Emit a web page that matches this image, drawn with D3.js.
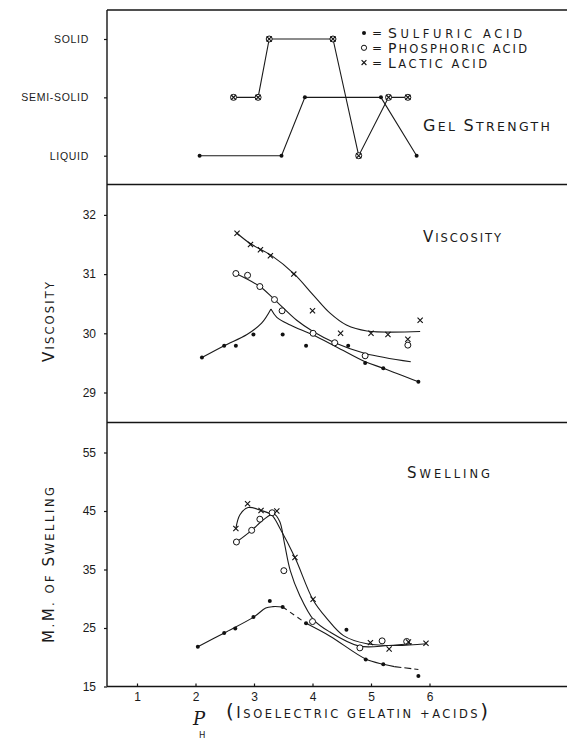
<!DOCTYPE html>
<html lang="en">
<head>
<meta charset="UTF-8">
<title>Gelatin: gel strength, viscosity and swelling against pH</title>
<script src="https://d3js.org/d3.v7.min.js"></script>
<style>
  body { margin: 0; background: #fff; }
  svg { display: block; background: #fff; font-family: "DejaVu Sans", sans-serif; }
  .frame { stroke: #151515; stroke-width: 1.4; fill: none; }
  .curve { fill: none; stroke: #1a1a1a; stroke-width: 1.1; }
  .dot { fill: #111; }
  .ring { fill: #fff; stroke: #111; stroke-width: 1; }
  .cross { stroke: #111; stroke-width: 1.1; fill: none; }
  .axis path { display: none; }
  .axis line { stroke: #151515; stroke-width: 1.2; }
  .axis text { fill: #1a1a1a; font-size: 12px; }
  text { fill: #1a1a1a; }
</style>
</head>
<body>
<svg width="567" height="738"></svg>
<script>
// ---- data ----
const gelLevels = ["Liquid", "Semi-solid", "Solid"];
const xTicks = [1, 2, 3, 4, 5, 6];
const viscTicks = [29, 30, 31, 32];
const swellTicks = [15, 25, 35, 45, 55];

// gel strength [pH, level]
const gelSulfuric = [[2.07, "Liquid"], [3.47, "Liquid"], [3.87, "Semi-solid"], [5.17, "Semi-solid"], [5.78, "Liquid"]];
const gelPhosphoric = [[2.65, "Semi-solid"], [3.07, "Semi-solid"], [3.26, "Solid"], [4.35, "Solid"], [4.79, "Liquid"], [5.30, "Semi-solid"], [5.63, "Semi-solid"]];
const gelLactic = [[2.65, "Semi-solid"], [3.07, "Semi-solid"], [3.26, "Solid"], [4.35, "Solid"], [4.79, "Liquid"], [5.30, "Semi-solid"], [5.63, "Semi-solid"]];

// viscosity observations [pH, value]
const viscSulfuric = [[2.11, 29.59], [2.49, 29.79], [2.69, 29.79], [2.99, 29.98], [3.49, 29.98], [3.89, 29.79], [4.61, 29.79], [4.90, 29.50], [5.21, 29.41], [5.81, 29.18]];
const viscPhosphoric = [[2.69, 31.01], [2.89, 30.98], [3.10, 30.79], [3.35, 30.57], [3.48, 30.38], [4.01, 30.00], [4.38, 29.84], [4.90, 29.62], [5.63, 29.80]];
const viscLactic = [[2.71, 31.69], [2.94, 31.50], [3.11, 31.41], [3.28, 31.31], [3.68, 31.00], [4.00, 30.38], [4.48, 30.00], [5.00, 30.00], [5.29, 29.98], [5.63, 29.90], [5.84, 30.22]];

// viscosity hand-drawn curves
const viscSulfuricRise = [[2.11, 29.59], [2.49, 29.79], [2.88, 29.98], [3.13, 30.17], [3.29, 30.41]];
const viscSulfuricFall = [[3.29, 30.41], [3.39, 30.27], [3.62, 30.14], [4.01, 29.97], [4.41, 29.77], [4.90, 29.52], [5.21, 29.41], [5.81, 29.18]];
const viscPhosphoricFit = [[2.69, 31.01], [3.10, 30.79], [3.35, 30.57], [3.73, 30.22], [4.01, 30.03], [4.38, 29.84], [4.90, 29.66], [5.68, 29.52]];
const viscLacticFit = [[2.71, 31.69], [2.93, 31.52], [3.29, 31.32], [3.69, 31.00], [4.01, 30.65], [4.30, 30.34], [4.58, 30.14], [4.93, 30.04], [5.84, 30.03]];

// swelling observations [pH, mm]
const swellSulfuric = [[2.04, 21.8], [2.49, 24.15], [2.68, 24.9], [2.99, 26.9], [3.27, 29.6], [3.49, 28.6], [3.89, 25.8], [4.58, 24.7], [4.91, 19.6], [5.21, 18.8], [5.81, 16.8]];
const swellPhosphoric = [[2.70, 39.7], [2.96, 41.7], [3.10, 43.6], [3.31, 44.7], [3.51, 34.8], [4.00, 26.1], [4.81, 21.6], [5.19, 22.8], [5.61, 22.7]];
const swellLactic = [[2.69, 42.0], [2.89, 46.25], [3.12, 45.1], [3.39, 45.0], [3.70, 37.05], [4.01, 29.9], [4.99, 22.5], [5.31, 21.4], [5.64, 22.6], [5.94, 22.4]];

// swelling hand-drawn curves
const swellSulfuricA = [[2.04, 21.8], [2.5, 24.2], [3.0, 26.9], [3.2, 28.4], [3.32, 28.65], [3.49, 28.6]];
const swellSulfuricB = [[3.49, 28.6], [3.89, 25.8]];
const swellSulfuricC = [[3.89, 25.8], [4.3, 23.6], [4.91, 19.7], [5.21, 18.8], [5.4, 18.4]];
const swellSulfuricD = [[5.4, 18.4], [5.81, 17.9]];
const swellPhosphoricFit = [[2.70, 39.7], [2.96, 41.7], [3.16, 43.5], [3.34, 44.5], [3.44, 43.2], [3.52, 39.5], [3.62, 34.8], [3.78, 30.6], [4.02, 26.4], [4.3, 24.3], [4.8, 21.9], [5.3, 22.0], [5.7, 22.3]];
const swellLacticFit = [[2.69, 42.0], [2.76, 44.35], [2.90, 45.6], [3.12, 45.1], [3.30, 44.35], [3.44, 42.1], [3.70, 37.05], [4.01, 29.8], [4.24, 26.7], [4.53, 23.7], [4.93, 22.3], [5.44, 22.0], [5.95, 22.3]];

// ---- layout ----
const svg = d3.select("svg");
const plotL = 107, plotR = 567;
const topY = 10, sep1 = 184.5, sep2 = 422.5, baseY = 686.5;

const x = d3.scaleLinear().domain([1, 6]).range([137, 429.5]);
const yGel = d3.scalePoint().domain(gelLevels).range([155.7, 39]);
const yVisc = d3.scaleLinear().domain([29, 32]).range([392.5, 214.9]);
const ySwell = d3.scaleLinear().domain([15, 55]).range([686.5, 452.5]);

// frame
const frame = svg.append("g");
[topY, sep1, sep2, baseY].forEach(y => {
  frame.append("line").attr("class", "frame")
    .attr("x1", plotL).attr("x2", plotR).attr("y1", y).attr("y2", y);
});
frame.append("line").attr("class", "frame")
  .attr("x1", plotL).attr("x2", plotL).attr("y1", topY).attr("y2", baseY);

// axes
svg.append("g").attr("class", "axis")
  .attr("transform", `translate(${plotL},0)`)
  .call(d3.axisLeft(yGel).tickSize(3).tickPadding(15).tickFormat(d => d.toUpperCase()))
  .selectAll("text").style("font-size", "10.5px").style("letter-spacing", "0.7px");

svg.append("g").attr("class", "axis")
  .attr("transform", `translate(${plotL},0)`)
  .call(d3.axisLeft(yVisc).tickValues(viscTicks).tickFormat(d3.format("d")).tickSize(3).tickPadding(8));

svg.append("g").attr("class", "axis")
  .attr("transform", `translate(${plotL},0)`)
  .call(d3.axisLeft(ySwell).tickValues(swellTicks).tickFormat(d3.format("d")).tickSize(3).tickPadding(8));

svg.append("g").attr("class", "axis")
  .attr("transform", `translate(0,${baseY})`)
  .call(d3.axisBottom(x).tickValues(xTicks).tickFormat(d3.format("d")).tickSize(-3).tickPadding(6));

// small-caps lettering: capitals big, the rest as smaller capitals
function letter(g, px, py, str, o) {
  const t = g.append("text")
    .attr("text-anchor", o.anchor || "start")
    .attr("transform", `translate(${px},${py})` + (o.rotate ? ` rotate(${o.rotate})` : ""))
    .attr("y", 0.36 * o.big);
  let run = "", kind = null;
  const sizeOf = k => k === "paren" ? (o.paren || o.big) : k === "big" ? o.big : o.small;
  const flush = () => {
    if (!run) return;
    t.append("tspan").attr("font-size", sizeOf(kind)).text(run);
    run = "";
  };
  for (const ch of str) {
    const k = /[()]/.test(ch) ? "paren" : /[A-Z]/.test(ch) ? "big" : "small";
    if (kind !== null && k !== kind) flush();
    kind = k;
    run += k === "small" ? ch.toUpperCase() : ch;
  }
  flush();
  if (o.len) t.attr("textLength", o.len).attr("lengthAdjust", "spacing");
  return t;
}

// markers
function marks(g, data, ys, kind) {
  const sel = g.append("g").selectAll("g").data(data).join("g")
    .attr("transform", d => `translate(${x(d[0])},${ys(d[1])})`);
  if (kind === "dot") sel.append("circle").attr("class", "dot").attr("r", 2);
  if (kind === "ring") sel.append("circle").attr("class", "ring").attr("r", 3);
  if (kind === "cross") sel.append("path").attr("class", "cross").attr("d", "M-2.6,-2.6L2.6,2.6M-2.6,2.6L2.6,-2.6");
}

function curve(g, data, ys, smooth, dash) {
  const line = d3.line().x(d => x(d[0])).y(d => ys(d[1]))
    .curve(smooth ? d3.curveCatmullRom.alpha(0.5) : d3.curveLinear);
  const p = g.append("path").attr("class", "curve").attr("d", line(data));
  if (dash) p.attr("stroke-dasharray", dash);
}

// ---- gel strength panel ----
const gGel = svg.append("g");
curve(gGel, gelSulfuric, yGel, false);
curve(gGel, gelPhosphoric, yGel, false);
marks(gGel, gelPhosphoric, yGel, "ring");
marks(gGel, gelLactic, yGel, "cross");
marks(gGel, gelSulfuric, yGel, "dot");

// legend
const legend = svg.append("g");
const legendRows = [
  { kind: "dot", label: "Sulfuric acid", len: 134 },
  { kind: "ring", label: "Phosphoric acid", len: 139 },
  { kind: "cross", label: "Lactic acid", len: 99 }
];
legendRows.forEach((r, i) => {
  const cy = 33 + i * 14.8;
  const m = legend.append("g").attr("transform", `translate(364,${cy})`);
  if (r.kind === "dot") m.append("circle").attr("class", "dot").attr("r", 2);
  if (r.kind === "ring") m.append("circle").attr("class", "ring").attr("r", 2.6);
  if (r.kind === "cross") m.append("path").attr("class", "cross").attr("d", "M-2.4,-2.4L2.4,2.4M-2.4,2.4L2.4,-2.4");
  legend.append("text").attr("x", 377).attr("y", cy + 4).attr("text-anchor", "middle")
    .attr("font-size", 12).text("=");
  letter(legend, 388, cy, r.label, { big: 14, small: 11.5, len: r.len });
});

letter(svg, 423, 125, "Gel Strength", { big: 16, small: 12.5, len: 127 });

// ---- viscosity panel ----
const gVisc = svg.append("g");
curve(gVisc, viscSulfuricRise, yVisc, true);
curve(gVisc, viscSulfuricFall, yVisc, true);
curve(gVisc, viscPhosphoricFit, yVisc, true);
curve(gVisc, viscLacticFit, yVisc, true);
marks(gVisc, viscSulfuric, yVisc, "dot");
marks(gVisc, viscPhosphoric, yVisc, "ring");
marks(gVisc, viscLactic, yVisc, "cross");

letter(svg, 423, 237, "Viscosity", { big: 15, small: 11.5, len: 78 });
letter(svg, 49, 322, "Viscosity", { big: 15, small: 11.5, len: 80, anchor: "middle", rotate: -90 });

// ---- swelling panel ----
const gSwell = svg.append("g");
curve(gSwell, swellSulfuricA, ySwell, true);
curve(gSwell, swellSulfuricB, ySwell, false, "5,4");
curve(gSwell, swellSulfuricC, ySwell, true);
curve(gSwell, swellSulfuricD, ySwell, false, "7,3");
curve(gSwell, swellPhosphoricFit, ySwell, true);
curve(gSwell, swellLacticFit, ySwell, true);
marks(gSwell, swellSulfuric, ySwell, "dot");
marks(gSwell, swellPhosphoric, ySwell, "ring");
marks(gSwell, swellLactic, ySwell, "cross");

letter(svg, 407, 473, "Swelling", { big: 15, small: 11.5, len: 83 });
letter(svg, 49, 565, "M.M. of Swelling", { big: 15, small: 11.5, len: 156, anchor: "middle", rotate: -90 });

// ---- x title ----
svg.append("text").attr("x", 193).attr("y", 725)
  .attr("font-family", "DejaVu Serif, serif").attr("font-style", "italic")
  .attr("font-size", 18).text("P");
svg.append("text").attr("x", 199).attr("y", 737.5)
  .attr("font-size", 8.5).text("H");
letter(svg, 226, 713, "(Isoelectric gelatin +acids)", { big: 15, small: 11.5, paren: 20, len: 262 });
</script>
</body>
</html>
